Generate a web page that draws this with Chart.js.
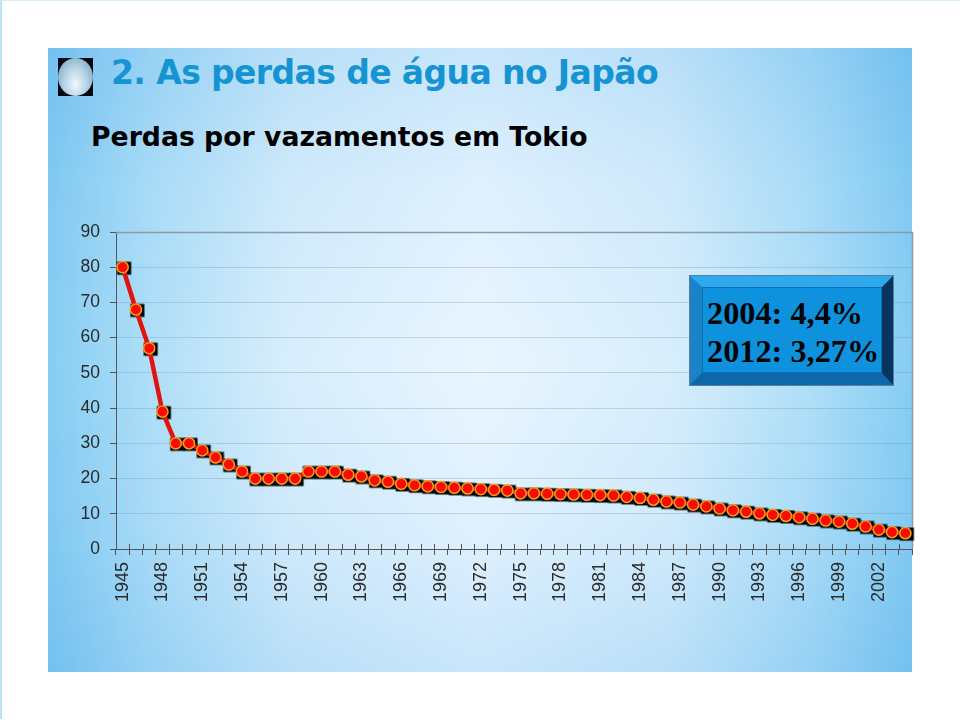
<!DOCTYPE html>
<html><head><meta charset="utf-8">
<script src="https://cdn.jsdelivr.net/npm/chart.js@4"></script>
<style>
html,body{margin:0;padding:0;background:#fff;width:960px;height:720px;overflow:hidden}
#edge{position:absolute;left:0;top:0;width:958px;height:718px;border-left:2px solid #bfe3f6;border-top:1px solid #d5eefa}
#panel{position:absolute;left:48px;top:48px;width:864px;height:624px;
background-image:linear-gradient(90deg,#86cdf3 0%,#b0dff8 12%,#d8eefc 28%,#e9f5ff 50%,#d8eefc 72%,#b0dff8 88%,#86cdf3 100%),
linear-gradient(180deg,#dbeffb 0%,#f4fafe 22%,#ffffff 50%,#f4fafe 78%,#dbeffb 100%);
background-blend-mode:multiply}
#icon{position:absolute;left:58px;top:58px;width:35px;height:38px;background:#04070f}
#ball{position:absolute;left:0;top:0;width:35px;height:38px;border-radius:50%;
background:radial-gradient(ellipse at 50% 68%,#f0f8fd 0%,#b5d3e6 45%,#8db4c9 75%,#5d8ba3 100%)}
#title,#sub{position:absolute;white-space:nowrap;font-family:"DejaVu Sans";font-weight:bold}
#title{left:111px;top:52px;font-size:33px;letter-spacing:-0.6px;line-height:42px;color:#1594d3}
#sub{left:91px;top:121px;font-size:26.7px;line-height:32px;color:#000}
#box{position:absolute;left:689px;top:275px;width:205px;height:111px;box-sizing:border-box;
border-style:solid;border-width:12px 12px 13px 13px;border-color:#2fa9ee #07355f #0c68a8 #1a82c8;background:#0f92de;outline:1px solid #5a7f9e;outline-offset:-1px}
#inner{position:absolute;left:0;top:0;right:0;bottom:0;border:1px solid #0a70b3;
font:bold 32.3px/38px "Liberation Serif";color:#050505;white-space:nowrap;padding:6px 0 0 4px}
canvas{position:absolute;left:0;top:0}
</style></head><body>
<div id="edge"></div>
<div id="panel"></div>
<div id="icon"><div id="ball"></div></div>
<div id="title">2. As perdas de água no Japão</div>
<div id="sub">Perdas por vazamentos em Tokio</div>
<canvas id="c" width="960" height="720"></canvas>
<div id="box"><div id="inner">2004: 4,4%<br>2012: 3,27%</div></div>
<script>
const years = [1945,1946,1947,1948,1949,1950,1951,1952,1953,1954,1955,1956,1957,1958,1959,1960,1961,1962,1963,1964,1965,1966,1967,1968,1969,1970,1971,1972,1973,1974,1975,1976,1977,1978,1979,1980,1981,1982,1983,1984,1985,1986,1987,1988,1989,1990,1991,1992,1993,1994,1995,1996,1997,1998,1999,2000,2001,2002,2003,2004];
const losses = [80,68,57,39,30,30,28,26,24,22,20,20,20,20,22,22,22,21.1,20.6,19.5,19.1,18.5,18.1,17.8,17.6,17.4,17.2,17,16.8,16.6,15.8,15.8,15.7,15.6,15.5,15.4,15.3,15.2,14.8,14.5,14,13.5,13.2,12.6,12.1,11.5,11,10.6,10.1,9.7,9.4,9,8.6,8.1,7.8,7.2,6.4,5.5,4.8,4.5];
const yTicks = [0,10,20,30,40,50,60,70,80,90];

// square shadow marker: transparent canvas whose black square sits off-centre
const sq = document.createElement('canvas'); sq.width = 20; sq.height = 20;
const g = sq.getContext('2d'); g.fillStyle = '#000'; g.fillRect(4.5,4.5,14,13);

new Chart(document.getElementById('c'), {
  type: 'line',
  data: { labels: years, datasets: [
    { data: losses, showLine:false, pointStyle: sq, pointRadius:10, order:2 },
    { data: losses, borderColor:'#e0140c', borderWidth:4.5, tension:0, fill:false,
      pointStyle:'circle', pointRadius:5.6, pointBorderWidth:1.5,
      pointBackgroundColor:'#fb0a00', pointBorderColor:'#f0a020', order:1 }
  ]},
  options: {
    responsive:false, animation:false, events:[],
    layout:{ padding:{ left:48, right:48, top:232, bottom:111 } },
    plugins:{ legend:{display:false}, tooltip:{enabled:false}, title:{display:false} },
    scales:{
      x:{ type:'category', offset:true,
        afterFit(s){ s.height = 60; },
        grid:{ display:true, drawOnChartArea:false, drawTicks:true, tickLength:6, color:'#555', offset:true },
        border:{ color:'#555', width:1 },
        ticks:{ autoSkip:false, minRotation:90, maxRotation:90, padding:7, color:'#2a2a2a',
          font:{ family:'Liberation Sans', size:18 },
          callback(v,i){ return i%3===0 ? years[i] : ''; } }
      },
      y:{ min:0, max:90,
        afterFit(s){ s.width = 68; },
        afterBuildTicks(s){ s.ticks = yTicks.map(v=>({value:v})); },
        grid:{ color:'rgba(120,140,155,0.3)', tickColor:'#555', tickLength:6, lineWidth:1 },
        border:{ color:'#555', width:1 },
        ticks:{ padding:10, color:'#2a2a2a', font:{ family:'Liberation Sans', size:17.5 } }
      }
    }
  },
  plugins:[{ id:'frame', beforeDatasetsDraw(c){ const a=c.chartArea,x=c.ctx,sx=c.scales.x; x.save(); x.strokeStyle='#8a9aa6'; x.lineWidth=1.5;
    x.beginPath(); x.moveTo(a.left,a.top+.5); x.lineTo(a.right+.5,a.top+.5); x.lineTo(a.right+.5,a.bottom); x.stroke();
    x.strokeStyle='#555'; x.lineWidth=1; x.beginPath();
    const half=(sx.getPixelForValue(1)-sx.getPixelForValue(0))/2;
    years.forEach((y,i)=>{ const p=Math.round(sx.getPixelForValue(i)-half)+.5; x.moveTo(p,a.bottom-5); x.lineTo(p,a.bottom); });
    x.stroke(); x.restore(); } }]
});
</script>
</body></html>
